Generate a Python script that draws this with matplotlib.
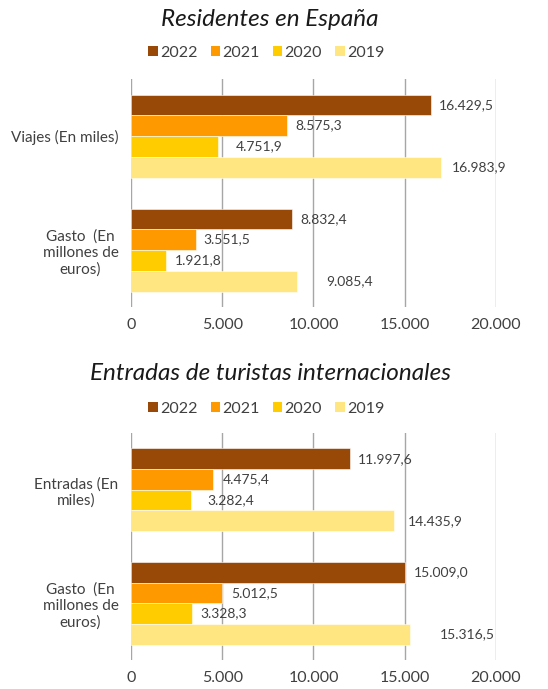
import matplotlib
matplotlib.use("Agg")
import matplotlib.pyplot as plt
import numpy as np
from matplotlib.patches import Patch

# data
years = ["2022", "2021", "2020", "2019"]
colors = ["#984807", "#FF9900", "#FFCC00", "#FFE680"]

res_categories = ["Viajes (En miles)", "Gasto  (En\nmillones de\neuros)"]
res_values = {
    "2022": [16429.5, 8832.4],
    "2021": [8575.3, 3551.5],
    "2020": [4751.9, 1921.8],
    "2019": [16983.9, 9085.4],
}

int_categories = ["Entradas (En\nmiles)", "Gasto  (En\nmillones de\neuros)"]
int_values = {
    "2022": [11997.6, 15009.0],
    "2021": [4475.4, 5012.5],
    "2020": [3282.4, 3328.3],
    "2019": [14435.9, 15316.5],
}

# label gaps (pixels) after each bar end, like the Excel auto placement
res_gaps = {"2022": [8, 8], "2021": [8, 8], "2020": [18, 9], "2019": [11, 29]}
int_gaps = {"2022": [8, 9], "2021": [10, 9], "2020": [17, 9], "2019": [13, 29]}

TXT = "#404040"
plt.rcParams["font.family"] = ["Lato", "DejaVu Sans"]


def es_num(v, dec=1):
    s = f"{v:,.{dec}f}"
    return s.replace(",", "X").replace(".", ",").replace("X", ".")


def draw_panel(ax, categories, values, gaps):
    y = np.arange(len(categories))
    h = 0.182
    for i, yr in enumerate(years):
        pos = y - 1.5 * h + i * h
        bars = ax.barh(pos, values[yr], height=h, color=colors[i],
                       edgecolor="white", linewidth=0.4, zorder=3)
        for b, v, g in zip(bars, values[yr], gaps[yr]):
            ax.annotate(es_num(v), (b.get_width(), b.get_y() + b.get_height() / 2),
                        xytext=(g, 0), textcoords="offset pixels",
                        ha="left", va="center", fontsize=10, color=TXT)
    ax.set_ylim(-0.5, len(categories) - 0.5)
    ax.invert_yaxis()
    ax.set_xlim(0, 20000)
    ax.set_xticks([0, 5000, 10000, 15000, 20000])
    ax.set_xticklabels([es_num(t, 0) for t in ax.get_xticks()])
    ax.set_yticks(y)
    ax.set_yticklabels(categories)
    for t in ax.get_yticklabels():
        t.set_multialignment("center")
    ax.tick_params(axis="both", length=0, labelsize=11, colors=TXT)
    ax.tick_params(axis="y", pad=9)
    ax.tick_params(axis="x", pad=8, labelsize=11.5)
    ax.grid(axis="x", color="#A6A6A6", linewidth=1, zorder=0)
    for s in ax.spines.values():
        s.set_visible(False)


fig = plt.figure(figsize=(5.48, 6.89), dpi=100)
ax1 = fig.add_axes([0.239, 0.5544, 0.666, 0.3309])
ax2 = fig.add_axes([0.239, 0.0421, 0.666, 0.3295])

draw_panel(ax1, res_categories, res_values, res_gaps)
draw_panel(ax2, int_categories, int_values, int_gaps)

handles = [Patch(facecolor=c, edgecolor="none") for c in colors]
for ytitle, yleg, title in [(20, 53, "Residentes en España"),
                            (373, 409, "Entradas de turistas internacionales")]:
    fig.text(0.493, 1 - ytitle / 689, title, ha="center", va="center",
             fontsize=17.5, style="italic", color="#1a1a1a")
    fig.legend(handles, years, loc="center", bbox_to_anchor=(0.486, 1 - yleg / 689),
               ncol=4, frameon=False, fontsize=11.5, handlelength=0.6,
               handleheight=0.6, handletextpad=0.15, columnspacing=0.8,
               labelcolor=TXT)

fig.savefig("out.png", dpi=100)
